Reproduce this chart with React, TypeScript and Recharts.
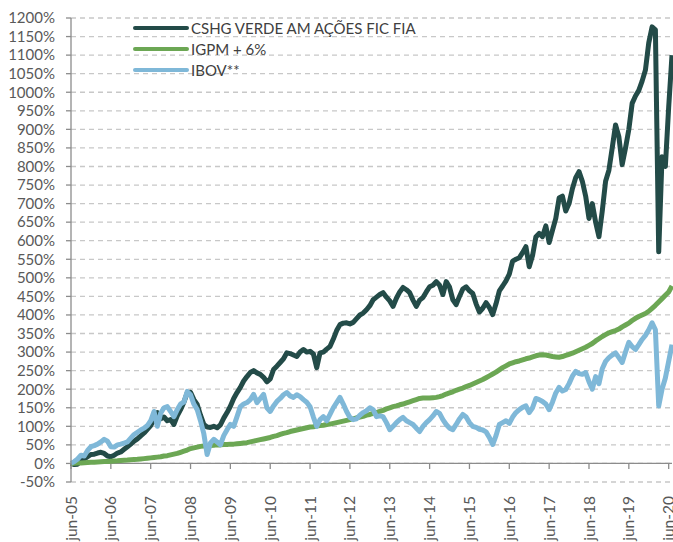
import {
  LineChart,
  Line,
  XAxis,
  YAxis,
  CartesianGrid,
  ReferenceLine,
  Legend,
} from 'recharts';

// monthly points, jun-05 .. jul-20 (index = months since jun-05)
const cshg = [
  0, -3, -2, 8, 12, 18, 24, 25, 28, 30, 27, 20,
  18, 22, 28, 31, 38, 45, 52, 60, 66, 74, 82, 92,
  102, 118, 137, 120, 125, 115, 118, 105, 128, 145, 165, 190,
  192, 172, 159, 130, 105, 98, 97, 100, 96, 104, 122, 137,
  154, 175, 191, 205, 222, 234, 245, 250, 244, 240, 232, 220,
  228, 253, 262, 272, 282, 298, 296, 292, 288, 300, 307, 300,
  302, 295, 258, 298, 300, 308, 315, 335, 358, 374, 378, 379,
  376, 380, 390, 400, 405, 414, 425, 441, 448, 455, 460, 448,
  438, 423, 445, 462, 474, 468, 460, 440, 423, 440, 447, 462,
  476, 480, 490, 480, 455, 490, 475, 441, 428, 450, 470, 476,
  465, 458, 430, 408, 418, 433, 420, 401, 430, 465, 478, 492,
  510, 545, 550, 554, 568, 584, 530, 560, 610, 620, 611, 640,
  595, 628, 660, 715, 720, 680, 700, 740, 770, 786, 760, 720,
  660, 700, 650, 611, 680, 760, 790, 850, 912, 880, 805, 850,
  900, 970, 990, 1005, 1030, 1060, 1133, 1176, 1168, 570, 826, 800,
  960, 1100,
];

const igpm = [
  0, 0.5, 1, 1, 2, 2.5, 3, 3.5, 4, 4.5, 5, 5.5,
  6, 6.5, 7, 8, 8.5, 9, 10, 10.5, 11, 12, 13, 14,
  15, 16, 17, 18, 20, 21, 23, 25, 27, 30, 33, 36,
  40, 42, 44, 46, 47, 48, 48, 49, 50, 50, 51, 51,
  52, 52, 53, 54, 55, 56, 58, 60, 62, 64, 66, 68,
  70, 73, 75, 78, 81, 83, 86, 88, 90, 92, 94, 96,
  98, 99, 101, 102, 103, 105, 106, 108, 110, 112, 114, 116,
  118, 120, 123, 125, 127, 130, 132, 135, 137, 140, 143, 147,
  150, 153, 155, 158, 160, 163, 166, 169, 172, 175, 176, 176,
  176, 177, 178, 180, 183, 187, 190, 193, 197, 200, 203, 207,
  210, 214, 218, 222, 226, 231, 236, 241, 246, 252, 258, 263,
  268, 271, 274, 276, 279, 282, 284, 287, 290, 292, 293, 292,
  290, 288, 287, 286, 288, 291, 294, 297, 301, 305, 309, 313,
  318, 323, 330, 336, 342, 347, 352, 355, 358, 362, 368, 373,
  378, 385, 391, 396, 400, 404, 410, 418, 426, 435, 444, 453,
  462, 478,
];

const ibov = [
  0, 5, 12, 22, 20, 35, 45, 48, 52, 58, 65, 60,
  45, 44, 50, 52, 55, 58, 68, 78, 84, 90, 95, 102,
  115, 140, 100, 135, 150, 153, 140, 126, 145, 160, 165, 194,
  185, 160, 145, 115, 80, 24, 55, 65, 58, 50, 75, 91,
  105, 100, 126, 153, 160, 164, 172, 186, 164, 175, 186, 150,
  140, 155, 167, 175, 185, 191, 182, 178, 185, 180, 172, 165,
  153, 125, 100, 118, 126, 115, 132, 150, 164, 178, 160, 140,
  124, 118, 120, 130, 137, 142, 150, 145, 126, 128, 126, 110,
  91, 100, 110, 118, 124, 115, 110, 105, 95, 86, 100, 110,
  118, 128, 140, 135, 118, 105, 95, 91, 105, 120, 132, 125,
  110, 100, 97, 92, 90, 85, 70, 51, 75, 105, 110, 115,
  108, 125, 137, 145, 151, 155, 137, 150, 175, 172, 167, 160,
  145, 165, 190, 205, 195, 199, 215, 235, 248, 242, 240, 245,
  220, 200, 234, 215, 255, 275, 285, 292, 298, 285, 272, 300,
  326, 315, 307, 320, 334, 345, 360, 379, 360, 155, 200, 230,
  275, 320,
];

const seriesNames = ['CSHG VERDE AM AÇÕES FIC FIA', 'IGPM + 6%', 'IBOV**'];

const xTickLabels = [
  'jun-05', 'jun-06', 'jun-07', 'jun-08', 'jun-09', 'jun-10', 'jun-11', 'jun-12',
  'jun-13', 'jun-14', 'jun-15', 'jun-16', 'jun-17', 'jun-18', 'jun-19', 'jun-20',
];
const xTicks = xTickLabels.map((_, i) => i * 12);
const yTicks = Array.from({ length: 26 }, (_, i) => -50 + i * 50);

const data = cshg.map((v, i) => ({ m: i, cshg: v, igpm: igpm[i], ibov: ibov[i] }));

const FONT = 'Lato, "Open Sans", sans-serif';

function XTick({ x, y, payload }: any) {
  const label = xTickLabels[Math.round(payload.value / 12)];
  const ty = y + 12;
  return (
    <text
      x={x}
      y={ty}
      dy="0.36em"
      transform={`rotate(-90, ${x}, ${ty})`}
      textAnchor="end"
      fill="#595959"
      fontSize={15.5}
      fontFamily={FONT}
    >
      {label}
    </text>
  );
}

function LegendBox({ payload }: any) {
  const items = [...(payload || [])].sort(
    (a: any, b: any) => seriesNames.indexOf(a.value) - seriesNames.indexOf(b.value),
  );
  return (
    <div style={{ fontFamily: FONT, fontSize: 15, color: '#404040' }}>
      {items.map((p: any) => (
        <div key={p.value} style={{ display: 'flex', alignItems: 'center', height: 21 }}>
          <svg width={56} height={8} style={{ marginRight: 2 }}>
            <line x1={2} y1={4} x2={54} y2={4} stroke={p.color} strokeWidth={4} strokeLinecap="round" />
          </svg>
          <span style={{ whiteSpace: 'nowrap' }}>{p.value}</span>
        </div>
      ))}
    </div>
  );
}

export default function App() {
  return (
    <div style={{ width: 673, height: 542, background: '#fff' }}>
      <style>{'body{margin:0}'}</style>
      <LineChart width={673} height={542} data={data} margin={{ top: 18, right: 1, left: 0, bottom: 0 }}>
        <CartesianGrid vertical={false} stroke="#c8c8c8" strokeDasharray="5 4" strokeWidth={1.3} />
        <XAxis
          dataKey="m"
          type="number"
          domain={[0, 181]}
          ticks={xTicks}
          interval={0}
          height={60}
          axisLine={false}
          tickLine={false}
          tickSize={0}
          tick={<XTick />}
        />
        <YAxis
          domain={[-50, 1200]}
          ticks={yTicks}
          interval={0}
          width={71}
          tickFormatter={(v: number) => `${v}%`}
          tick={{ fill: '#595959', fontSize: 15, fontFamily: FONT }}
          axisLine={{ stroke: '#8c8c8c', strokeWidth: 1.3 }}
          tickLine={{ stroke: '#8c8c8c', strokeWidth: 1.3 }}
          tickSize={5}
          tickMargin={11}
        />
        <ReferenceLine y={0} stroke="#8c8c8c" strokeWidth={1.3} />
        {xTicks.map((t) => (
          <ReferenceLine
            key={t}
            segment={[{ x: t, y: 0 }, { x: t, y: -15 }]}
            stroke="#8c8c8c"
            strokeWidth={1.3}
          />
        ))}
        <Legend
          layout="horizontal"
          verticalAlign="middle"
          align="center"
          wrapperStyle={{ top: 17, left: 133, width: 320 }}
          content={<LegendBox />}
        />
        <Line
          type="linear"
          dataKey="cshg"
          name={seriesNames[0]}
          stroke="#234b48"
          strokeWidth={5}
          strokeLinejoin="round"
          dot={false}
          isAnimationActive={false}
        />
        <Line
          type="linear"
          dataKey="igpm"
          name={seriesNames[1]}
          stroke="#6ca754"
          strokeWidth={5}
          strokeLinejoin="round"
          dot={false}
          isAnimationActive={false}
        />
        <Line
          type="linear"
          dataKey="ibov"
          name={seriesNames[2]}
          stroke="#7fb8d8"
          strokeWidth={5}
          strokeLinejoin="round"
          dot={false}
          isAnimationActive={false}
        />
      </LineChart>
    </div>
  );
}
